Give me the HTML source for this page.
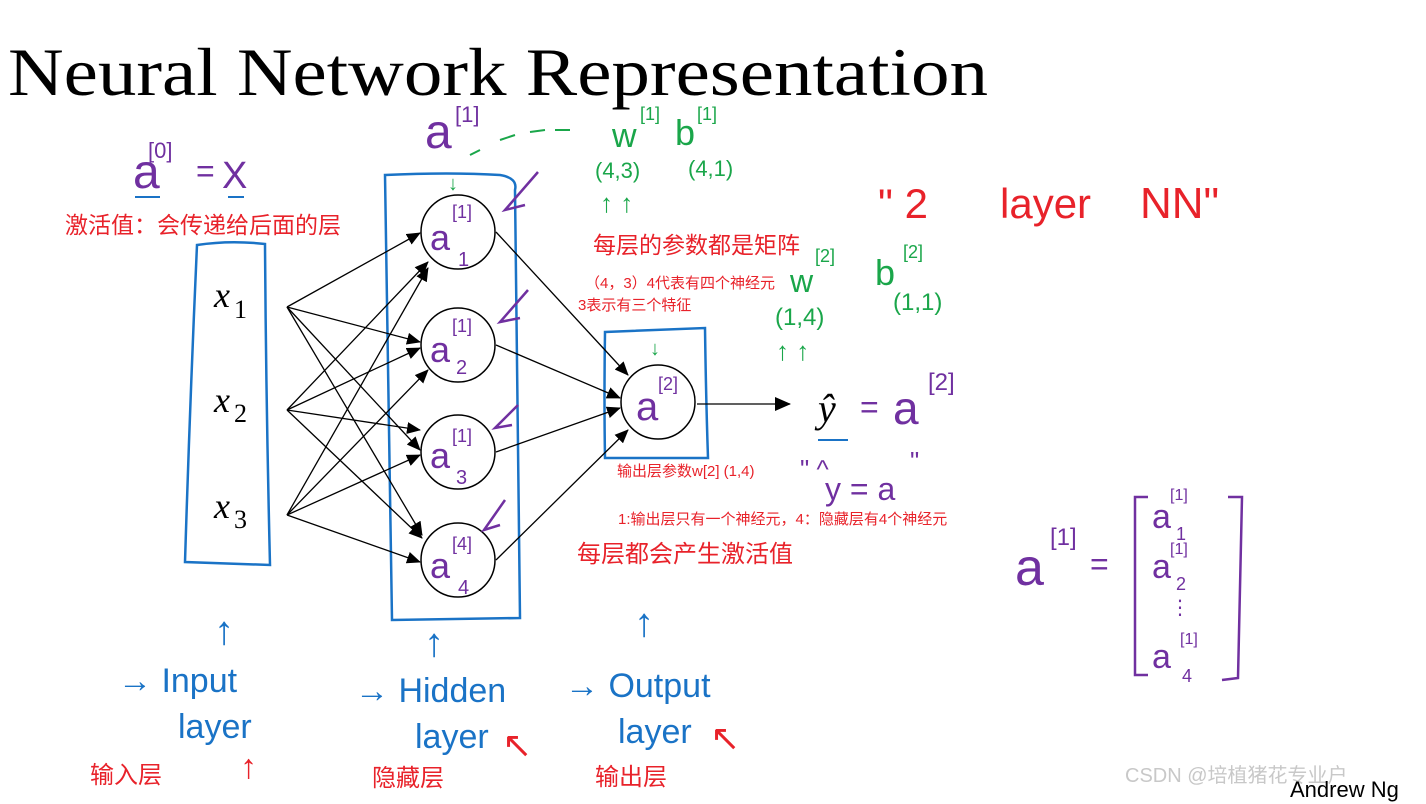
<!DOCTYPE html>
<html><head><meta charset="utf-8"><style>
html,body{margin:0;padding:0;background:#fff;}
svg{display:block;}
.hw{font-family:"Liberation Sans","DejaVu Sans",sans-serif;}
.cn{font-family:"Liberation Sans","Noto Sans CJK SC",sans-serif;}
</style></head><body>
<svg width="1426" height="804" viewBox="0 0 1426 804" xmlns="http://www.w3.org/2000/svg">
<defs><marker id="ah" markerWidth="14" markerHeight="12" refX="13" refY="6" orient="auto" markerUnits="userSpaceOnUse"><path d="M0,0 L14,6 L0,12 Z" fill="#000"/></marker>
<marker id="ah2" markerWidth="16" markerHeight="14" refX="15" refY="7" orient="auto" markerUnits="userSpaceOnUse"><path d="M0,0 L16,7 L0,14 Z" fill="#000"/></marker></defs>
<text x="8" y="95" font-family="Liberation Serif,serif" font-size="68" textLength="980" lengthAdjust="spacingAndGlyphs">Neural Network Representation</text>

<!-- input box -->
<path d="M197,245 Q230,240 265,244 Q266,400 270,565 L185,562 Q190,400 197,245Z" fill="none" stroke="#1a73c6" stroke-width="2.5"/>
<g font-family="Liberation Serif,serif" font-style="italic" font-size="36">
<text x="214" y="307">x</text><text x="214" y="412">x</text><text x="214" y="518">x</text></g>
<g font-family="Liberation Serif,serif" font-size="26"><text x="234" y="318">1</text><text x="234" y="422">2</text><text x="234" y="528">3</text></g>

<!-- hidden box -->
<path d="M385,175 Q450,172 500,175 Q518,178 515,190 Q518,400 520,618 L392,620 Q388,400 385,175Z" fill="none" stroke="#1a73c6" stroke-width="2.5"/>
<!-- output box -->
<path d="M605,332 Q650,330 705,328 Q706,400 708,458 L605,458 Q604,400 605,332Z" fill="none" stroke="#1a73c6" stroke-width="2.5"/>

<!-- edges -->
<g stroke="#000" stroke-width="1.3" marker-end="url(#ah)">
<line x1="287" y1="307" x2="420" y2="233"/><line x1="287" y1="307" x2="420" y2="342"/><line x1="287" y1="307" x2="420" y2="450"/><line x1="287" y1="307" x2="422" y2="535"/>
<line x1="287" y1="410" x2="428" y2="262"/><line x1="287" y1="410" x2="420" y2="348"/><line x1="287" y1="410" x2="420" y2="430"/><line x1="287" y1="410" x2="422" y2="538"/>
<line x1="287" y1="515" x2="428" y2="268"/><line x1="287" y1="515" x2="428" y2="370"/><line x1="287" y1="515" x2="420" y2="455"/><line x1="287" y1="515" x2="420" y2="562"/>
<line x1="496" y1="232" x2="628" y2="375"/><line x1="496" y1="345" x2="620" y2="398"/><line x1="496" y1="452" x2="620" y2="408"/><line x1="496" y1="560" x2="628" y2="430"/>
</g>
<line x1="697" y1="404" x2="790" y2="404" stroke="#000" stroke-width="1.3" marker-end="url(#ah2)"/>

<g fill="#fff" stroke="#000" stroke-width="1.5">
<circle cx="458" cy="232" r="37"/><circle cx="458" cy="345" r="37"/><circle cx="458" cy="452" r="37"/><circle cx="458" cy="560" r="37"/><circle cx="658" cy="402" r="37"/></g>

<g class="hw" fill="#7030a0">
<text x="430" y="250" font-size="36">a</text><text x="452" y="218" font-size="18">[1]</text><text x="458" y="266" font-size="20">1</text>
<text x="430" y="362" font-size="36">a</text><text x="452" y="332" font-size="18">[1]</text><text x="456" y="374" font-size="20">2</text>
<text x="430" y="468" font-size="36">a</text><text x="452" y="442" font-size="18">[1]</text><text x="456" y="484" font-size="20">3</text>
<text x="430" y="578" font-size="36">a</text><text x="452" y="550" font-size="18">[4]</text><text x="458" y="594" font-size="20">4</text>
<text x="636" y="420" font-size="40">a</text><text x="658" y="390" font-size="18">[2]</text>
<text x="425" y="148" font-size="48">a</text><text x="455" y="122" font-size="22">[1]</text>
<text x="133" y="188" font-size="48">a</text><text x="148" y="158" font-size="22">[0]</text><text x="196" y="182" font-size="32">=</text><text x="222" y="188" font-size="38">X</text>
<text x="893" y="424" font-size="46">a</text><text x="928" y="390" font-size="24">[2]</text>
<text x="1015" y="585" font-size="52">a</text><text x="1050" y="545" font-size="24">[1]</text><text x="1090" y="575" font-size="32">=</text>
<text x="1152" y="528" font-size="34">a</text><text x="1170" y="500" font-size="16">[1]</text><text x="1176" y="540" font-size="18">1</text>
<text x="1152" y="578" font-size="34">a</text><text x="1170" y="554" font-size="16">[1]</text><text x="1176" y="590" font-size="18">2</text>
<text x="1170" y="614" font-size="20">⋮</text>
<text x="1152" y="668" font-size="34">a</text><text x="1180" y="644" font-size="16">[1]</text><text x="1182" y="682" font-size="18">4</text>
<text x="825" y="500" font-size="32">y = a</text><text x="800" y="478" font-size="26">" ^</text><text x="910" y="470" font-size="26">"</text>
</g>
<path d="M1148,497 L1135,497 L1135,675 L1148,675 M1228,497 L1242,497 L1238,678 L1222,680" fill="none" stroke="#7030a0" stroke-width="2.5"/>
<g stroke="#7030a0" stroke-width="2.5" fill="none">
<path d="M538,172 L505,210 L525,205"/><path d="M528,290 L500,322 L520,318"/><path d="M518,405 L495,428 L512,425"/><path d="M505,500 L484,530 L500,525"/>
</g>
<line x1="135" y1="197" x2="160" y2="197" stroke="#1a73c6" stroke-width="2"/><line x1="228" y1="197" x2="244" y2="197" stroke="#1a73c6" stroke-width="2"/>
<line x1="818" y1="440" x2="848" y2="440" stroke="#1a73c6" stroke-width="2"/>
<text x="818" y="422" font-family="Liberation Serif,serif" font-style="italic" font-size="40">ŷ</text><text x="860" y="418" class="hw" font-size="32" fill="#7030a0">=</text>

<!-- green -->
<g class="hw" fill="#1aa64a">
<text x="612" y="147" font-size="34">w</text><text x="640" y="120" font-size="18">[1]</text><text x="675" y="145" font-size="36">b</text><text x="697" y="120" font-size="18">[1]</text>
<text x="595" y="178" font-size="22">(4,3)</text><text x="688" y="176" font-size="22">(4,1)</text>
<text x="600" y="212" font-size="26">↑ ↑</text>
<text x="790" y="292" font-size="32">w</text><text x="815" y="262" font-size="18">[2]</text><text x="875" y="285" font-size="36">b</text><text x="903" y="258" font-size="18">[2]</text>
<text x="775" y="325" font-size="24">(1,4)</text><text x="893" y="310" font-size="24">(1,1)</text>
<text x="776" y="360" font-size="26">↑ ↑</text>
<text x="650" y="355" font-size="20">↓</text><text x="448" y="190" font-size="20">↓</text>
</g>
<path d="M470,155 L480,150 M500,140 L515,135 M530,132 L545,130 M555,130 L570,130" stroke="#1aa64a" stroke-width="2"/>

<!-- red -->
<g class="cn" fill="#e8222a">
<text x="65" y="233" font-size="23">激活值：会传递给后面的层</text>
<text x="593" y="253" font-size="23">每层的参数都是矩阵</text>
<text x="585" y="288" font-size="15">（4，3）4代表有四个神经元</text>
<text x="578" y="310" font-size="15">3表示有三个特征</text>
<text x="617" y="476" font-size="15">输出层参数w[2] (1,4)</text>
<text x="618" y="524" font-size="15">1:输出层只有一个神经元，4：隐藏层有4个神经元</text>
<text x="577" y="562" font-size="24">每层都会产生激活值</text>
<text x="90" y="783" font-size="24">输入层</text>
<text x="372" y="786" font-size="24">隐藏层</text>
<text x="595" y="785" font-size="24">输出层</text>
</g>
<g class="hw" fill="#e8222a">
<text x="878" y="218" font-size="42">" 2</text><text x="1000" y="218" font-size="42">layer</text><text x="1140" y="218" font-size="44">NN"</text>
<text x="240" y="778" font-size="34">↑</text><text x="502" y="757" font-size="36">↖</text><text x="710" y="750" font-size="36">↖</text>
</g>

<!-- blue labels -->
<g class="hw" fill="#1a73c6">
<text x="214" y="644" font-size="40">↑</text><text x="424" y="656" font-size="40">↑</text><text x="634" y="636" font-size="40">↑</text>
<text x="118" y="692" font-size="34">→ Input</text><text x="178" y="738" font-size="34">layer</text>
<text x="355" y="702" font-size="34">→ Hidden</text><text x="415" y="748" font-size="34">layer</text>
<text x="565" y="697" font-size="34">→ Output</text><text x="618" y="743" font-size="34">layer</text>
</g>

<text x="1125" y="782" class="cn" font-size="20" fill="#c8c8c8">CSDN @培植猪花专业户</text>
<text x="1290" y="797" font-family="Liberation Sans,sans-serif" font-size="22" fill="#000">Andrew Ng</text>
</svg>
</body></html>
